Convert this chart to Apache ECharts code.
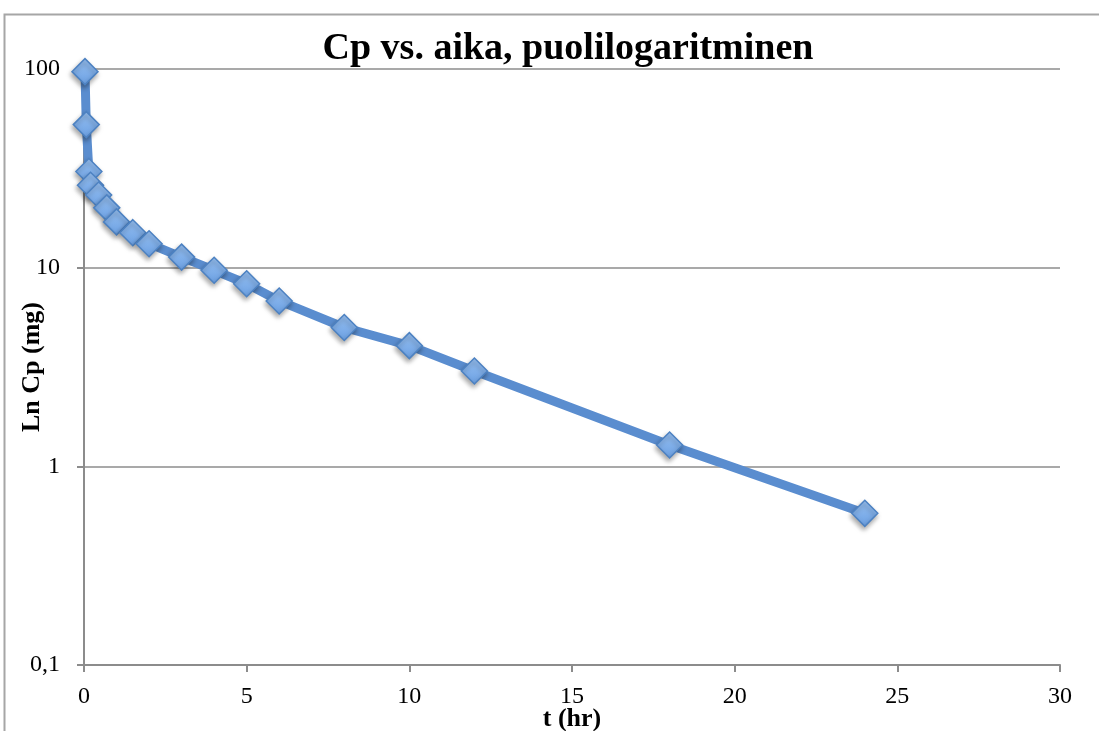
<!DOCTYPE html>
<html>
<head>
<meta charset="utf-8">
<script src="https://cdn.jsdelivr.net/npm/echarts@6/dist/echarts.min.js"></script>
<style>
  html, body { margin: 0; padding: 0; background: #fff; }
  #chart { width: 1099px; height: 731px; }
</style>
</head>
<body>
<div id="chart"></div>
<script>
// aika (h) ja pitoisuus
var times = [0.03, 0.07, 0.15, 0.2, 0.45, 0.7, 1, 1.5, 2, 3, 4, 5, 6, 8, 10, 12, 18, 24];
var cp = [97, 52.5, 30.5, 26, 23.2, 20, 17, 15, 13.2, 11.3, 9.7, 8.3, 6.8, 5.0, 4.05, 3.02, 1.28, 0.58];
var xTicks = [0, 5, 10, 15, 20, 25, 30];

var chart = echarts.init(document.getElementById('chart'));
var serif = '"Liberation Serif", "DejaVu Serif", serif';

chart.setOption({
  animation: false,
  textStyle: { fontFamily: serif },
  title: {
    text: 'Cp vs. aika, puolilogaritminen',
    left: 563, top: 25, textAlign: 'center',
    textStyle: { fontFamily: serif, fontSize: 38, fontWeight: 'bold', color: '#000' }
  },
  graphic: [{
    type: 'rect',
    shape: { x: 4.5, y: 14.5, width: 1200, height: 1000 },
    style: { fill: 'none', stroke: '#a6a6a6', lineWidth: 2 },
    silent: true
  }],
  grid: { left: 84, right: 39, top: 69, bottom: 66, outerBoundsMode: 'none', containLabel: false },
  xAxis: {
    type: 'value',
    min: xTicks[0], max: xTicks[xTicks.length - 1], interval: 5,
    name: 't (hr)', nameLocation: 'middle', nameGap: 41, nameMoveOverlap: false,
    nameTextStyle: { fontFamily: serif, fontSize: 26, fontWeight: 'bold', color: '#000' },
    axisLine: { show: true, lineStyle: { color: '#8c8c8c', width: 2 } },
    axisTick: { show: true, length: 7, lineStyle: { color: '#8c8c8c', width: 2 } },
    axisLabel: { fontFamily: serif, fontSize: 24, color: '#000', margin: 20 },
    splitLine: { show: false }
  },
  yAxis: {
    type: 'log', logBase: 10, min: 0.1, max: 100,
    name: 'Ln Cp (mg)', nameLocation: 'middle', nameGap: 39, nameRotate: 90, nameMoveOverlap: false,
    nameTextStyle: { fontFamily: serif, fontSize: 26, fontWeight: 'bold', color: '#000' },
    axisLine: { show: true, lineStyle: { color: '#8c8c8c', width: 2 } },
    axisTick: { show: true, length: 7, lineStyle: { color: '#8c8c8c', width: 2 } },
    axisLabel: {
      fontFamily: serif, fontSize: 24, color: '#000', margin: 24,
      formatter: function (v) { return String(+v.toPrecision(3)).replace('.', ','); }
    },
    minorTick: { show: false },
    splitLine: { show: true, lineStyle: { color: '#8c8c8c', width: 1.5 } }
  },
  series: [{
    type: 'line',
    data: times.map(function (t, i) { return [t, cp[i]]; }),
    symbol: 'diamond',
    symbolSize: 26,
    lineStyle: { color: '#5a8dcf', width: 9 },
    itemStyle: {
      color: new echarts.graphic.LinearGradient(0, 0, 0, 1, [
        { offset: 0, color: '#98c1f2' },
        { offset: 1, color: '#6a9fe2' }
      ]),
      borderColor: '#4d82c2', borderWidth: 1.5,
      shadowColor: 'rgba(0,0,0,0.35)', shadowBlur: 5, shadowOffsetX: -1, shadowOffsetY: 3
    },
    z: 3
  }]
});
</script>
</body>
</html>
